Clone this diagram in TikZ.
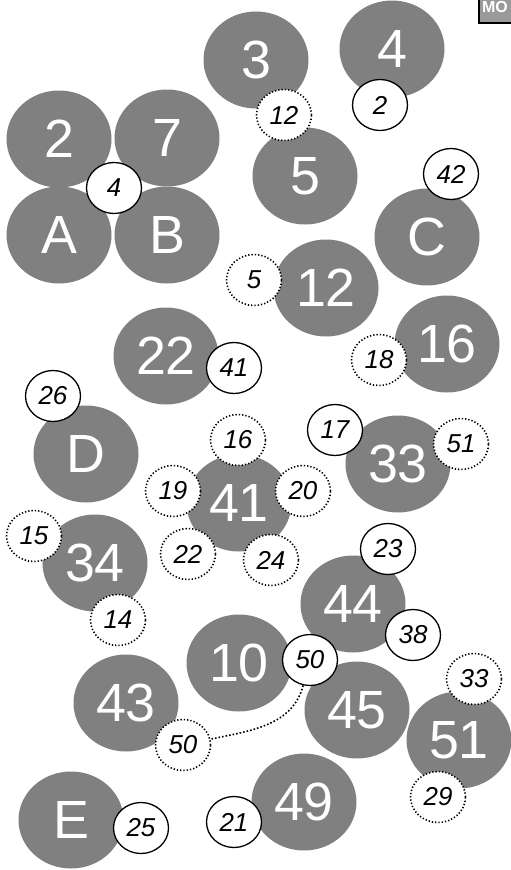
\documentclass[tikz,border=0pt]{standalone}
\usepackage{fontspec}
\setmainfont{Liberation Sans}
\usetikzlibrary{shapes.geometric}

\definecolor{bubble}{HTML}{808080}
\definecolor{modebox}{HTML}{9A9A9A}

\begin{document}
\begin{tikzpicture}[
  x=1bp, y=-1bp,
  big/.style={
    ellipse, fill=bubble, text=white, inner sep=0pt,
    minimum width=105bp, minimum height=97bp,
    font=\fontsize{54}{54}\selectfont
  },
  tag/.style={
    ellipse, draw=black, fill=white, line width=1.3bp, inner sep=0pt,
    minimum width=55bp, minimum height=51bp,
    font=\itshape\fontsize{26}{26}\selectfont
  },
  tagd/.style={tag, dotted, line width=1.6bp},
  link/.style={dotted, line width=1.6bp}
]
\clip (0,0) rectangle (511,870);
\fill[white] (0,0) rectangle (511,870);

% big bubbles
\node[big] (b3)  at (256,60)  {3};
\node[big] (b4)  at (392,49)  {4};
\node[big] (b2)  at (59,139)  {2};
\node[big] (b7)  at (167,138) {7};
\node[big] (bA)  at (59,235)  {A};
\node[big] (bB)  at (167,235) {B};
\node[big] (b5)  at (305,176) {5};
\node[big] (bC)  at (427,237) {C};
\node[big] (b12) at (326,288) {12};
\node[big] (b16) at (447,344) {16};
\node[big] (b22) at (166,356) {22};
\node[big] (bD)  at (86,454)  {D};
\node[big] (b33) at (398,464) {33};
\node[big] (b41) at (239,503) {41};
\node[big] (b34) at (95,563)  {34};
\node[big] (b44) at (353,604) {44};
\node[big] (b10) at (239,663) {10};
\node[big] (b43) at (126,703) {43};
\node[big] (b45) at (357,710) {45};
\node[big] (b51) at (459,740) {51};
\node[big] (bE)  at (71,820)  {E};
\node[big] (b49) at (304,802) {49};

% small tags
\node[tagd] (t12)  at (284,115) {12};
\node[tag]  (t2)   at (380,105) {2};
\node[tag]  (t4)   at (114,188) {4};
\node[tag]  (t42)  at (451,174) {42};
\node[tagd] (t5)   at (254,280) {5};
\node[tagd] (t18)  at (379,360) {18};
\node[tag]  (t41)  at (234,368) {41};
\node[tag]  (t26)  at (53,396)  {26};
\node[tagd] (t16)  at (238,440) {16};
\node[tag]  (t17)  at (335,430) {17};
\node[tagd] (t51)  at (461,444) {51};
\node[tagd] (t19)  at (173,491) {19};
\node[tagd] (t20)  at (303,491) {20};
\node[tagd] (t22)  at (188,554) {22};
\node[tagd] (t24)  at (271,560) {24};
\node[tagd] (t15)  at (34,536)  {15};
\node[tagd] (t14)  at (118,620) {14};
\node[tag]  (t23)  at (388,549) {23};
\node[tag]  (t38)  at (413,635) {38};
\node[tag]  (t50)  at (310,660) {50};
\node[tagd] (t33)  at (474,679) {33};
\node[tagd] (t50b) at (183,745) {50};
\node[tagd] (t29)  at (438,797) {29};
\node[tag]  (t21)  at (234,822) {21};
\node[tag]  (t25)  at (141,828) {25};

\draw[link] (t50) to[out=-105, in=12] (t50b);

% mode box, running off the page corner
\node[draw=black, line width=1.8bp, fill=modebox, anchor=south west,
      minimum width=50bp, minimum height=36bp] (mode) at (478,24) {};
\node[text=white, anchor=base west, inner sep=0pt,
      font=\bfseries\fontsize{16}{16}\selectfont] (modetxt) at (482,12) {MO};
\end{tikzpicture}
\end{document}
